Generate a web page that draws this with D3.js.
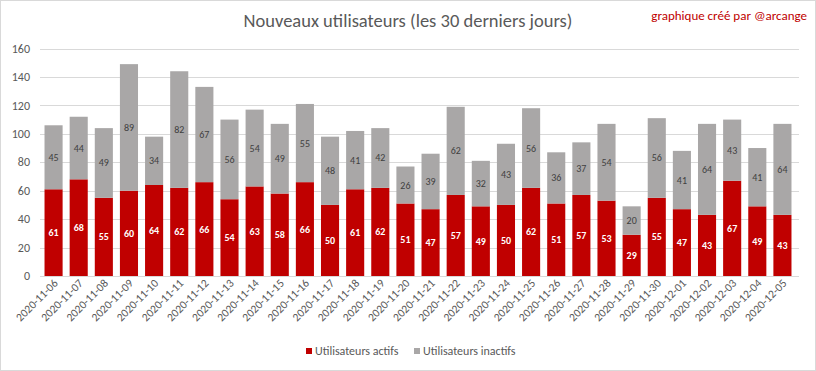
<!DOCTYPE html>
<html><head><meta charset="utf-8">
<script src="https://cdn.jsdelivr.net/npm/d3@7"></script>
<style>body{margin:0;background:#fff}svg{display:block;font-family:Calibri,"Open Sans","Liberation Sans",sans-serif}</style>
</head><body>
<script>
const dates = ["2020-11-06","2020-11-07","2020-11-08","2020-11-09","2020-11-10","2020-11-11","2020-11-12","2020-11-13","2020-11-14","2020-11-15","2020-11-16","2020-11-17","2020-11-18","2020-11-19","2020-11-20","2020-11-21","2020-11-22","2020-11-23","2020-11-24","2020-11-25","2020-11-26","2020-11-27","2020-11-28","2020-11-29","2020-11-30","2020-12-01","2020-12-02","2020-12-03","2020-12-04","2020-12-05"];
const actifs = [61,68,55,60,64,62,66,54,63,58,66,50,61,62,51,47,57,49,50,62,51,57,53,29,55,47,43,67,49,43];
const inactifs = [45,44,49,89,34,82,67,56,54,49,55,48,41,42,26,39,62,32,43,56,36,37,54,20,56,41,64,43,41,64];
const yTicks = [0,20,40,60,80,100,120,140,160];
const seriesNames = ["Utilisateurs actifs","Utilisateurs inactifs"];
const colors = ["#C00000","#A9A7A7"];

const W=816,H=371;
const svg=d3.select("body").append("svg").attr("width",W).attr("height",H);
svg.append("rect").attr("x",0.5).attr("y",0.5).attr("width",W-1).attr("height",H-1).attr("fill","#fff").attr("stroke","#d9d9d9");

const x=d3.scaleBand().domain(dates).range([41,795]).paddingInner(0.28).paddingOuter(0.14);
const y=d3.scaleLinear().domain([0,160]).range([276,48.5]);

// gridlines
svg.append("g").selectAll("line").data(yTicks).join("line")
  .attr("x1",40).attr("x2",799).attr("y1",d=>Math.round(y(d))+0.5).attr("y2",d=>Math.round(y(d))+0.5)
  .attr("stroke","#d9d9d9").attr("stroke-width",1);

// y labels
svg.append("g").selectAll("text").data(yTicks).join("text")
  .attr("x",30).attr("y",d=>y(d)).attr("dy","0.35em").attr("text-anchor","end")
  .attr("font-size",12).attr("fill","#595959").text(d=>d);

const data=dates.map((d,i)=>({date:d,a:actifs[i],b:inactifs[i]}));
const stack=d3.stack().keys(["a","b"])(data);

stack.forEach((s,si)=>{
  const g=svg.append("g");
  g.selectAll("rect").data(s).join("rect")
    .attr("x",d=>x(d.data.date)).attr("width",x.bandwidth())
    .attr("y",d=>y(d[1])).attr("height",d=>y(d[0])-y(d[1]))
    .attr("fill",colors[si]);
  g.selectAll("text").data(s).join("text")
    .attr("x",d=>x(d.data.date)+x.bandwidth()/2)
    .attr("y",d=>(y(d[0])+y(d[1]))/2).attr("dy","0.35em")
    .attr("text-anchor","middle").attr("font-size",10)
    .attr("font-weight",si===0?"bold":"normal")
    .attr("fill",si===0?"#ffffff":"#404040")
    .text(d=>d[1]-d[0]);
});

// x labels
svg.append("g").selectAll("text").data(dates).join("text")
  .attr("transform",d=>`translate(${x(d)+x.bandwidth()/2+5},${284}) rotate(-45)`)
  .attr("text-anchor","end").attr("font-size",11.5).attr("fill","#595959").text(d=>d);

// title
svg.append("text").attr("x",408).attr("y",27).attr("text-anchor","middle")
  .attr("font-size",18.5).attr("fill","#595959").text("Nouveaux utilisateurs (les 30 derniers  jours)");
svg.append("text").attr("x",807).attr("y",20).attr("text-anchor","end")
  .attr("font-size",13).attr("fill","#C00000").text("graphique créé par @arcange");

// legend
const leg=svg.append("g");
const lx=[306,414];
seriesNames.forEach((n,i)=>{
  leg.append("rect").attr("x",lx[i]).attr("y",348).attr("width",6).attr("height",6).attr("fill",colors[i]);
  leg.append("text").attr("x",lx[i]+9).attr("y",351).attr("dy","0.35em").attr("font-size",12).attr("fill","#595959").text(n);
});
</script>
</body></html>
